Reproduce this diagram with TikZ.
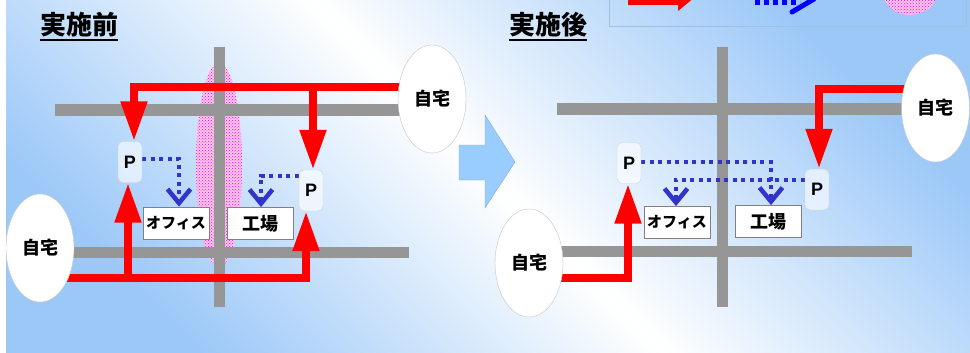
\documentclass[tikz,border=0pt]{standalone}
\usepackage{fontspec}
\newfontfamily\jp{Noto Sans CJK JP}
\newfontfamily\lsans{Liberation Sans}
\usetikzlibrary{arrows.meta,patterns,shapes.geometric}
\definecolor{roadgray}{HTML}{969696}
\definecolor{bgblue}{HTML}{9CC8F8}
\definecolor{dotblue}{HTML}{3333CC}
\definecolor{bigarrowblue}{HTML}{99CCFF}
\definecolor{legendline}{HTML}{A4BEDC}
\pgfdeclarelayer{back}
\pgfdeclarelayer{front}
\pgfsetlayers{back,main,front}
\tikzset{
  roadline/.style={draw=roadgray, line width=11.5pt},
  redarr/.style={draw=red, line width=8pt, line join=miter, -{Triangle[length=40pt,width=25pt]}},
  bluearr/.style={draw=dotblue, line width=4pt, dash pattern=on 4pt off 4.5pt, -{Straight Barb[length=14pt,width=23pt,line width=4.5pt]}},
  pbox/.style={draw=gray!35, fill=white, fill opacity=0.6, text opacity=1, rounded corners=5pt, minimum width=24pt, minimum height=41pt, inner sep=0pt, font=\lsans\bfseries\fontsize{18}{18}\selectfont},
  home/.style={ellipse, draw=gray!45, fill=white, minimum width=68pt, minimum height=108pt, inner sep=0pt, font=\jp\bfseries\fontsize{18}{18}\selectfont},
  place/.style={draw=gray, line width=0.8pt, fill=white, minimum width=66pt, minimum height=32pt, inner sep=0pt},
  title/.style={anchor=base west, inner sep=0pt, font=\jp\bfseries\fontsize{26}{26}\selectfont},
  pinkzone/.style={pattern=crosshatch dots, pattern color=magenta}
}
\begin{document}
\begin{tikzpicture}[x=1pt,y=-1pt]
\useasboundingbox (0,0) rectangle (970,353);
\begin{pgfonlayer}{back}
  \fill[white] (0,0) rectangle (970,353);
  \shade[top color=bgblue, bottom color=bgblue, middle color=white, shading angle=-45] (6,0) rectangle (970,353);
  % pink zone
  \fill[magenta!22] (219,165) ellipse [x radius=23, y radius=102];
  \fill[pinkzone] (219,165) ellipse [x radius=23, y radius=102];
  % roads left
  \draw[roadline] (219.5,47) -- (219.5,307);
  \draw[roadline] (55,110) -- (420,110);
  \draw[roadline] (50,252.5) -- (409,252.5);
  % roads right
  \draw[roadline] (722.5,47) -- (722.5,307);
  \draw[roadline] (557,109) -- (930,109);
  \draw[roadline] (540,251.5) -- (912,251.5);
  % big arrow
  \filldraw[fill=bigarrowblue, draw=bigarrowblue!85!black, line width=0.4pt]
    (459,145) -- (485,145) -- (485,115) -- (515,162) -- (485,208) -- (485,180) -- (459,180) -- cycle;
  % legend
  \draw[legendline, line width=0.8pt] (609,-10) rectangle (966,26);
  \draw[red, line width=16pt, -{Triangle[length=17pt,width=27pt]}] (628,-3) -- (695,-3);
  \draw[blue, line width=12pt, dash pattern=on 5pt off 4pt] (755,-1) -- (800,-1);
  \draw[blue, line width=5pt, line cap=round, line join=round] (792,12) -- (814,-1) -- (792,-14);
  \fill[magenta!22] (910,-8) ellipse [x radius=27, y radius=23];
  \fill[pinkzone] (910,-8) ellipse [x radius=27, y radius=23];
\end{pgfonlayer}

\begin{pgfonlayer}{front}
  % titles
  \node[title] (t1) at (40,35) {実施前};
  \node[title] (t2) at (509,35) {実施後};
  % left panel
  \node[home] (hR1) at (432,99) {自宅};
  \node[home] (hL1) at (40,248) {自宅};
  \node[pbox] (p11) at (130,162) {P};
  \node[pbox] (p12) at (311,190.5) {P};
  \node[place, font=\jp\bfseries\fontsize{15}{15}\selectfont] (of1) at (176,223) {オフィス};
  \node[place, font=\jp\bfseries\fontsize{18}{18}\selectfont] (fa1) at (260,223.5) {工場};
  % right panel
  \node[home] (hR2) at (935.5,108) {自宅};
  \node[home] (hL2) at (529,263) {自宅};
  \node[pbox] (p21) at (629,163) {P};
  \node[pbox] (p22) at (817,189.5) {P};
  \node[place, font=\jp\bfseries\fontsize{15}{15}\selectfont] (of2) at (677,222.5) {オフィス};
  \node[place, font=\jp\bfseries\fontsize{18}{18}\selectfont] (fa2) at (768,221.5) {工場};
\end{pgfonlayer}
\draw[line width=1.6pt] ([yshift=-5pt]t1.base west) -- ([yshift=-5pt]t1.base east);
\draw[line width=1.6pt] ([yshift=-5pt]t2.base west) -- ([yshift=-5pt]t2.base east);

% red routes, left
\coordinate (b1) at (313,87);
\coordinate (c1) at (128,278);
\draw[redarr] ([yshift=12pt]hR1.center) -| ([xshift=4pt]p11.north);
\draw[redarr] (b1) -- ([xshift=2pt]p12.north);
\draw[redarr] ([yshift=-30pt]hL1.center) -| ([xshift=-5pt]p12.south);
\draw[redarr] (c1) -- ([xshift=-2pt]p11.south);
% red routes, right
\draw[redarr] ([yshift=19pt]hR2.center) -| ([xshift=2pt]p22.north);
\draw[redarr] ([yshift=-15pt]hL2.center) -| ([xshift=-1pt]p21.south);
% blue walks
\draw[bluearr] ([yshift=3pt]p11.east) -| ([xshift=3pt]of1.north);
\draw[bluearr] ([yshift=15pt]p12.west) -| ([xshift=1pt]fa1.north);
\draw[bluearr] ([yshift=1pt]p21.east) -| ([xshift=3pt]fa2.north);
\draw[bluearr] ([yshift=10pt]p22.west) -| ([xshift=-1pt]of2.north);
\end{tikzpicture}
\end{document}
